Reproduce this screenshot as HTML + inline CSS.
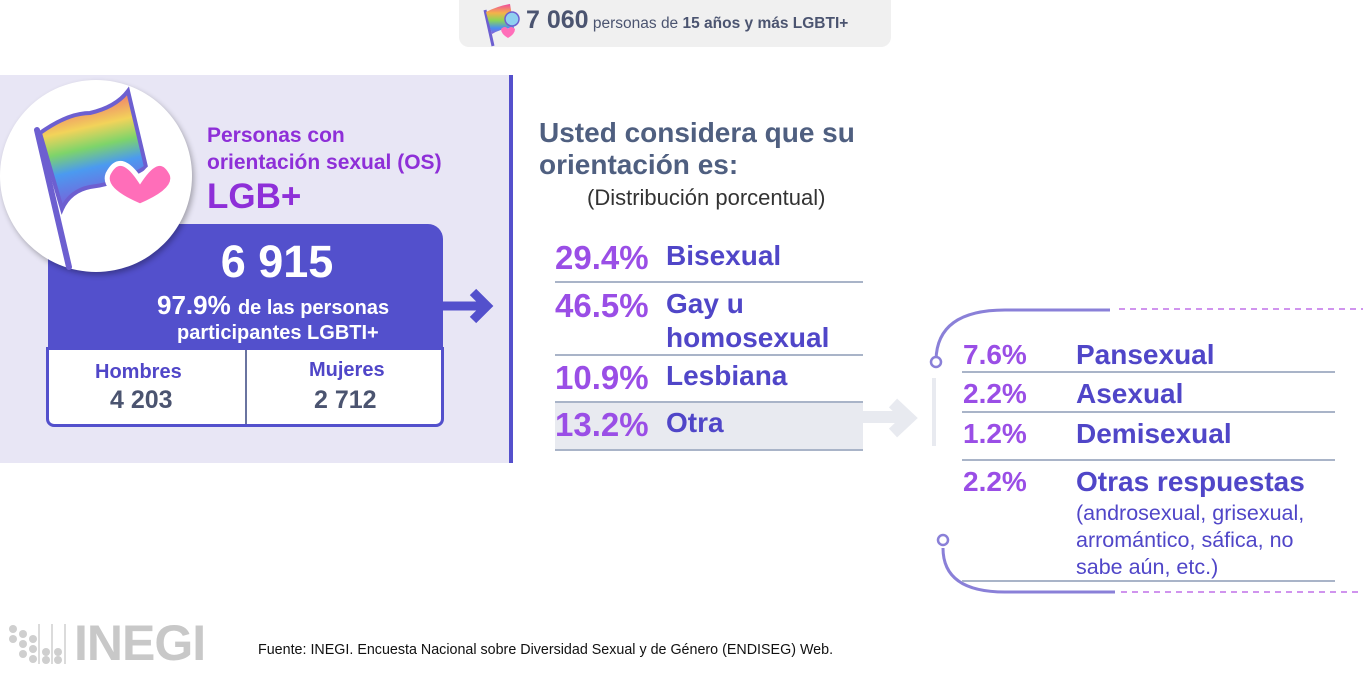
<!DOCTYPE html>
<html><head><meta charset="utf-8"><style>
body{margin:0;width:1363px;height:679px;position:relative;background:#fff;font-family:"Liberation Sans",Arial,sans-serif;overflow:hidden}
.a{position:absolute;white-space:nowrap}
.p{color:#9a4ee6;font-weight:bold}
.l{color:#5046c8;font-weight:bold}
.hr{position:absolute;height:2px;background:#a9b4c8}
</style></head><body>
<div class="a" style="left:459px;top:0;width:432px;height:47px;background:#f0f0f0;border-radius:0 0 10px 10px"></div>
<svg class="a" style="left:480px;top:2px" width="40" height="46" viewBox="0 0 40 46">
<line x1="5" y1="8" x2="13" y2="44" stroke="#6d5fd0" stroke-width="3"/>
<path d="M6 10 Q18 4 30 2 L34 26 Q22 26 12 32Z" fill="url(#g)"/>
<defs><linearGradient id="g" x1="0" y1="0" x2="0" y2="1"><stop offset="0" stop-color="#f04aa0"/><stop offset=".3" stop-color="#f5b24a"/><stop offset=".55" stop-color="#8ad657"/><stop offset=".8" stop-color="#4b8ef0"/><stop offset="1" stop-color="#8a5fd8"/></linearGradient></defs>
<circle cx="32" cy="17" r="7" fill="#8fd0f0" stroke="#6d5fd0" stroke-width="1.5"/>
<path d="M21 27 q4-4 7 0 q3-4 7 0 q0 5-7 9 q-7-4-7-9z" fill="#ff6eb9"/>
</svg>
<div class="a" style="left:526px;top:6px;font-size:15.5px;color:#4b5470"><b style="font-size:25px">7 060</b> personas de <b>15 años y más LGBTI+</b></div>

<div class="a" style="left:0;top:75px;width:510px;height:388px;background:#e8e6f5"></div>
<div class="a" style="left:509px;top:75px;width:4px;height:388px;background:#5550cc"></div>
<div class="a" style="left:48px;top:224px;width:395px;height:130px;background:#5350cc;border-radius:0 15px 0 0"></div>
<div class="a" style="left:0;top:80px;width:192px;height:192px;border-radius:50%;background:#fff;box-shadow:2px 3px 6px rgba(0,0,0,.3)"></div>
<svg class="a" style="left:28px;top:85px" width="150" height="190" viewBox="0 0 150 190">
<defs><linearGradient id="r" x1="0" y1="0" x2="0.2" y2="1"><stop offset="0" stop-color="#f0469a"/><stop offset=".2" stop-color="#ef8a6a"/><stop offset=".38" stop-color="#f2d35a"/><stop offset=".55" stop-color="#7ed46a"/><stop offset=".72" stop-color="#4b9af0"/><stop offset="1" stop-color="#7a5fd8"/></linearGradient></defs>
<path d="M12 48 Q40 28 62 28 Q88 22 100 6 L118 82 Q94 98 62 102 Q42 106 34 124Z" fill="url(#r)" stroke="#6d5fd0" stroke-width="4"/>
<line x1="9" y1="45" x2="41" y2="182" stroke="#6d5fd0" stroke-width="6" stroke-linecap="round"/>
<path d="M112 95 q-20-30 -32-6 q-6 16 32 32 q38-16 32-32 q-12-24 -32 6z" fill="#ff6eb9" stroke="#fff" stroke-width="5"/>
</svg>
<div class="a" style="left:207px;top:122px;font-size:21px;line-height:27px;color:#8e2fd8;font-weight:bold">Personas con<br>orientación sexual (OS)</div>
<div class="a" style="left:207px;top:177px;font-size:35px;color:#8e2fd8;font-weight:bold">LGB+</div>
<div class="a" style="left:46px;top:236px;text-align:center;color:#fff;font-weight:bold;font-size:45px;width:462px">6 915</div>
<div class="a" style="left:157px;top:290px;color:#fff;font-weight:bold;font-size:26px">97.9% <span style="font-size:20px">de las personas</span></div>
<div class="a" style="left:177px;top:322px;color:#fff;font-weight:bold;font-size:20px">participantes LGBTI+</div>
<svg class="a" style="left:443px;top:283px" width="52" height="46"><path d="M0 23 H44 M30 9 L44 23 L30 37" stroke="#5350cc" stroke-width="9" fill="none"/></svg>
<div class="a" style="left:46px;top:347px;width:392px;height:74px;background:#fff;border:3px solid #5350cc;border-radius:0 0 8px 8px"></div>
<div class="a" style="left:245px;top:350px;width:2px;height:74px;background:#6a74a0"></div>
<div class="a" style="left:95px;top:361px;font-size:20px;font-weight:bold;color:#5046c8">Hombres</div>
<div class="a" style="left:110px;top:386px;font-size:25px;font-weight:bold;color:#4b5470">4 203</div>
<div class="a" style="left:309px;top:359px;font-size:20px;font-weight:bold;color:#5046c8">Mujeres</div>
<div class="a" style="left:314px;top:386px;font-size:25px;font-weight:bold;color:#4b5470">2 712</div>

<div class="a" style="left:539px;top:117px;font-size:28px;line-height:32px;font-weight:bold;color:#4f5f80">Usted considera que su<br>orientación es:</div>
<div class="a" style="left:587px;top:185px;font-size:22px;color:#333">(Distribución porcentual)</div>

<div class="a" style="left:555px;top:402px;width:308px;height:48px;background:#e8eaf0"></div>
<div class="a p" style="left:555px;top:239px;font-size:33px">29.4%</div>
<div class="a l" style="left:666px;top:240px;font-size:28px">Bisexual</div>
<div class="hr" style="left:555px;top:281px;width:308px"></div>
<div class="a p" style="left:555px;top:287px;font-size:33px">46.5%</div>
<div class="a l" style="left:666px;top:287px;font-size:28px;line-height:34px">Gay u<br>homosexual</div>
<div class="hr" style="left:555px;top:354px;width:308px"></div>
<div class="a p" style="left:555px;top:359px;font-size:33px">10.9%</div>
<div class="a l" style="left:666px;top:360px;font-size:28px">Lesbiana</div>
<div class="hr" style="left:555px;top:401px;width:308px"></div>
<div class="a p" style="left:555px;top:406px;font-size:33px">13.2%</div>
<div class="a l" style="left:666px;top:407px;font-size:28px">Otra</div>
<div class="hr" style="left:555px;top:449px;width:308px"></div>
<svg class="a" style="left:863px;top:395px" width="58" height="48"><path d="M0 22 H44 M30 8 L46 23 L30 38" stroke="#e8eaf0" stroke-width="12" fill="none"/></svg>
<div class="a" style="left:932px;top:378px;width:4px;height:68px;background:#e8eaf0"></div>

<svg class="a" style="left:925px;top:300px" width="438" height="300">
<path d="M11 60 Q12 10 80 10 H185" stroke="#8a80d8" stroke-width="3" fill="none"/>
<path d="M194 9 H438" stroke="#c070e8" stroke-width="1.5" stroke-dasharray="6 5"/>
<circle cx="11" cy="62" r="5" fill="#fff" stroke="#8a80d8" stroke-width="2.5"/>
<path d="M18 248 Q18 292 80 292 H190" stroke="#8a80d8" stroke-width="3" fill="none"/>
<path d="M196 292 H438" stroke="#c070e8" stroke-width="1.5" stroke-dasharray="6 5"/>
<circle cx="18" cy="240" r="5" fill="#fff" stroke="#8a80d8" stroke-width="2.5"/>
</svg>
<div class="a p" style="left:963px;top:339px;font-size:28px">7.6%</div>
<div class="a l" style="left:1076px;top:339px;font-size:28px">Pansexual</div>
<div class="hr" style="left:962px;top:371px;width:373px"></div>
<div class="a p" style="left:963px;top:378px;font-size:28px">2.2%</div>
<div class="a l" style="left:1076px;top:378px;font-size:28px">Asexual</div>
<div class="hr" style="left:962px;top:411px;width:373px"></div>
<div class="a p" style="left:963px;top:418px;font-size:28px">1.2%</div>
<div class="a l" style="left:1076px;top:418px;font-size:28px">Demisexual</div>
<div class="hr" style="left:962px;top:459px;width:373px"></div>
<div class="a p" style="left:963px;top:466px;font-size:28px">2.2%</div>
<div class="a l" style="left:1076px;top:466px;font-size:28px">Otras respuestas</div>
<div class="a" style="left:1076px;top:500px;font-size:21.5px;line-height:27px;color:#5046c8">(androsexual, grisexual,<br>arromántico, sáfica, no<br>sabe aún, etc.)</div>
<div class="hr" style="left:962px;top:580px;width:373px"></div>

<svg class="a" style="left:8px;top:624px" width="62" height="40">
<g fill="#cfcfcf"><circle cx="5" cy="5" r="4"/><circle cx="5" cy="15" r="4"/><circle cx="15" cy="10" r="4"/><circle cx="15" cy="20" r="4"/><circle cx="15" cy="30" r="4"/><circle cx="25" cy="15" r="4"/><circle cx="25" cy="25" r="4"/><circle cx="25" cy="35" r="4"/><circle cx="38" cy="28" r="4"/><circle cx="38" cy="36" r="4"/><circle cx="50" cy="28" r="4"/><circle cx="50" cy="36" r="4"/></g>
<g stroke="#cfcfcf" stroke-width="1.5"><line x1="31" y1="0" x2="31" y2="40"/><line x1="44" y1="0" x2="44" y2="40"/><line x1="57" y1="0" x2="57" y2="40"/></g>
</svg>
<div class="a" style="left:74px;top:614px;font-size:50px;font-weight:bold;color:#c8c8c8;letter-spacing:-1px">INEGI</div>
<div class="a" style="left:258px;top:642px;font-size:14.3px;color:#111">Fuente:  INEGI. Encuesta Nacional sobre Diversidad Sexual y de Género (ENDISEG) Web.</div>
</body></html>
